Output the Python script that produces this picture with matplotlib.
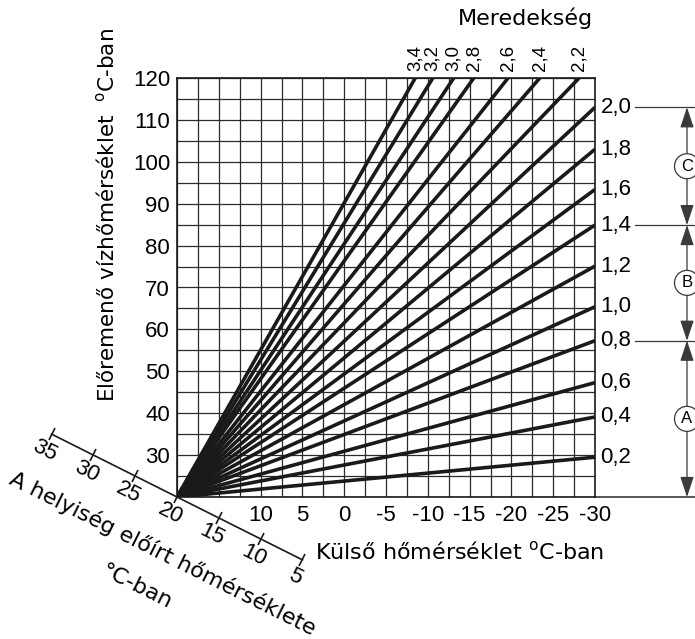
import numpy as np
import matplotlib
matplotlib.use("Agg")
import matplotlib.pyplot as plt
import matplotlib.transforms as mtransforms
from matplotlib.markers import MarkerStyle

# -- Data --------------------------------------------------------------------
ROOM_SET = 20  # all curves start at (20, 20)

# curves that end on the right edge (outdoor temp -30)
right_slopes = ["0,2", "0,4", "0,6", "0,8", "1,0", "1,2", "1,4", "1,6", "1,8", "2,0"]
right_end_flow = [29.5, 39.1, 47.3, 57.3, 65.4, 75.1, 84.9, 93.4, 103.0, 113.0]
OUT_MIN = -30

# curves that end on the top edge (flow temp 120)
top_slopes = ["3,4", "3,2", "3,0", "2,8", "2,6", "2,4", "2,2"]
top_end_outdoor = [-8.5, -10.6, -13.1, -15.5, -19.6, -23.4, -28.1]
FLOW_MAX = 120

x_tick_vals = [10, 5, 0, -5, -10, -15, -20, -25, -30]
y_tick_vals = [30, 40, 50, 60, 70, 80, 90, 100, 110, 120]
room_ticks = [35, 30, 25, 20, 15, 10, 5]

# slope ranges A / B / C (boundaries at curves 0.8, 1.4, 2.0)
range_names = ["C", "B", "A"]
range_bounds = [113.0, 84.9, 57.3, 20.0]

# -- Figure ------------------------------------------------------------------
plt.rcParams["font.family"] = ["DejaVu Sans"]
NUM_FONT = "Liberation Sans"
INK = "#1a1a1a"

fig = plt.figure(figsize=(6.95, 6.39), dpi=100)
ax = fig.add_axes([177 / 695, 142 / 639, 418 / 695, 419 / 639])
ax.set_xlim(20, -30)
ax.set_ylim(20, 120)

# grid: 2.5 deg x 5 deg cells
ax.set_xticks(np.arange(-30, 20.1, 2.5), minor=True)
ax.set_yticks(np.arange(20, 120.1, 5), minor=True)
ax.grid(which="both", color="#2a2a2a", lw=0.9)
ax.set_axisbelow(True)
ax.set_xticks(x_tick_vals, [str(v) for v in x_tick_vals])
ax.set_yticks(y_tick_vals, [str(v) for v in y_tick_vals])
ax.tick_params(which="both", length=0)
ax.tick_params(axis="x", pad=6, labelsize=16)
ax.tick_params(axis="y", pad=5, labelsize=16)
for lab in ax.get_xticklabels() + ax.get_yticklabels():
    lab.set_fontfamily(NUM_FONT)
for sp in ax.spines.values():
    sp.set_linewidth(1.2)
    sp.set_color(INK)

# heating curves
for lab, y_end in zip(right_slopes, right_end_flow):
    ax.plot([ROOM_SET, OUT_MIN], [ROOM_SET, y_end], color=INK, lw=2.6,
            solid_capstyle="butt")
    ax.annotate(lab, xy=(OUT_MIN, y_end), xytext=(4, 0), textcoords="offset points",
                ha="left", va="center", fontsize=16, fontfamily=NUM_FONT,
                annotation_clip=False)

for lab, x_end in zip(top_slopes, top_end_outdoor):
    ax.plot([ROOM_SET, x_end], [ROOM_SET, FLOW_MAX], color=INK, lw=2.6,
            solid_capstyle="butt")
    ax.annotate(lab, xy=(x_end, FLOW_MAX), xytext=(0, 5), textcoords="offset points",
                ha="center", va="bottom", rotation=90, fontsize=13.5,
                fontfamily=NUM_FONT, annotation_clip=False)

ax.text(0.8325, 1.143, "Meredekség", transform=ax.transAxes, ha="center",
        va="center", fontsize=16)

ax.set_xlabel("Külső hőmérséklet $^{\\rm o}$C-ban", fontsize=16, va="center")
ax.xaxis.set_label_coords(0.677, -0.131)
ax.set_ylabel("Előremenő vízhőmérséklet  $^{\\rm o}$C-ban", fontsize=15.5, va="center")
ax.yaxis.set_label_coords(-0.167, 0.673)

# diagonal room temperature axis: room temp r sits at (r, r)
p0 = ax.transData.transform((room_ticks[0], room_ticks[0]))
p1 = ax.transData.transform((room_ticks[-1], room_ticks[-1]))
angle = np.degrees(np.arctan2(p1[1] - p0[1], p1[0] - p0[0]))
ax.plot([room_ticks[0], room_ticks[-1]], [room_ticks[0], room_ticks[-1]],
        color=INK, lw=1.2, clip_on=False)
tick_marker = MarkerStyle("|", transform=mtransforms.Affine2D().rotate_deg(angle))
ax.plot(room_ticks, room_ticks, ls="none", marker=tick_marker, ms=10, mew=1.2,
        color=INK, clip_on=False)
for r in room_ticks:
    ax.annotate(str(r), xy=(r, r), xytext=(-5, -12), textcoords="offset points",
                ha="center", va="center", rotation=angle, rotation_mode="anchor",
                fontsize=16, fontfamily=NUM_FONT, annotation_clip=False)
ax.annotate("A helyiség előírt hőmérséklete", xy=(ROOM_SET, ROOM_SET),
            xytext=(-10, -41), textcoords="offset points", ha="center", va="center",
            rotation=angle, rotation_mode="anchor", fontsize=16,
            annotation_clip=False)
ax.annotate("°C-ban", xy=(ROOM_SET, ROOM_SET), xytext=(-29, -65),
            textcoords="offset points", ha="center", va="center", rotation=angle,
            rotation_mode="anchor", fontsize=16, annotation_clip=False)

# slope range brackets on the right
blend = mtransforms.blended_transform_factory(fig.transFigure, ax.transData)
BR_X = 687 / 695
GRAY = "#3a3a3a"
for y in range_bounds[:-1]:
    ax.plot([635 / 695, 1.0], [y, y], color=GRAY, lw=0.9, transform=blend,
            clip_on=False)
ax.plot([595 / 695, 1.0], [range_bounds[-1]] * 2, color=GRAY, lw=1.2,
        transform=blend, clip_on=False)
for name, top, bot in zip(range_names, range_bounds[:-1], range_bounds[1:]):
    ax.annotate("", xy=(BR_X, top), xytext=(BR_X, bot), xycoords=blend,
                textcoords=blend, annotation_clip=False,
                arrowprops=dict(arrowstyle="<|-|>,head_length=0.9,head_width=0.3",
                                mutation_scale=14, color=GRAY, lw=0.9,
                                shrinkA=0, shrinkB=0))
    ax.text(BR_X, (top + bot) / 2, name, transform=blend, ha="center", va="center",
            fontsize=12, fontfamily=NUM_FONT, clip_on=False,
            bbox=dict(boxstyle="circle,pad=0.3", fc="white", ec=GRAY, lw=0.9))

fig.savefig("out.png", dpi=100)
